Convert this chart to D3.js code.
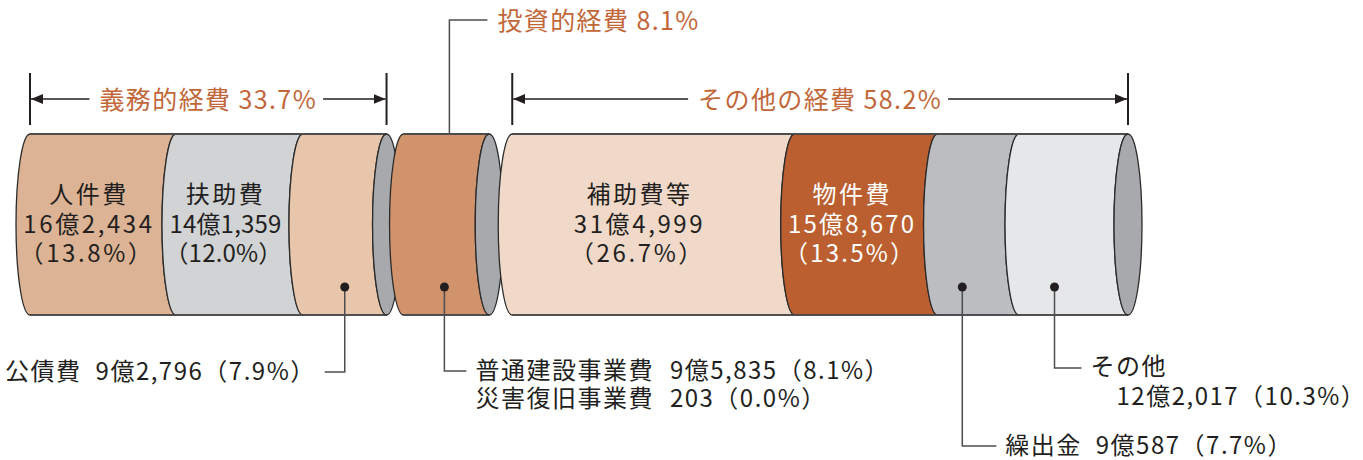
<!DOCTYPE html>
<html>
<head>
<meta charset="utf-8">
<script src="https://cdn.jsdelivr.net/npm/d3@7"></script>
<style>
    body { margin: 0; background: #fff; }
    svg text { font-family: "Noto Sans CJK JP", "Noto Sans", sans-serif; }
</style>
</head>
<body>
<div id="chart-area"></div>
<script>
// 経費区分
var groupNames = ["義務的経費", "投資的経費", "その他の経費"];
var groupShares = [33.7, 8.1, 58.2];

// 内訳 (金額は千円単位の表記のまま)
var itemNames = ["人件費", "扶助費", "公債費", "普通建設事業費", "災害復旧事業費", "補助費等", "物件費", "繰出金", "その他"];
var itemGroups = [0, 0, 0, 1, 1, 2, 2, 2, 2];
var itemAmounts = ["16億2,434", "14億1,359", "9億2,796", "9億5,835", "203", "31億4,999", "15億8,670", "9億587", "12億2,017"];
var itemShares = [13.8, 12.0, 7.9, 8.1, 0.0, 26.7, 13.5, 7.7, 10.3];

var colors = {
    "人件費": "#dcb394", "扶助費": "#d1d3d4", "公債費": "#e8c6ab",
    "普通建設事業費": "#d0936b", "災害復旧事業費": "#d0936b",
    "補助費等": "#f0d9c8", "物件費": "#bb5f31", "繰出金": "#bbbdc0", "その他": "#e6e7e8"
};
var capColor = "#a7a9ac";
var accent = "#c2673a";

CylinderChart = function(_parentElement) {
    var vis = this;
    vis.parentElement = _parentElement;
    vis.svgWidth = 1363;
    vis.svgHeight = 460;
    vis.left = 30;
    vis.gaps = [0, 17, 40];
    vis.cy = 224.5;
    vis.ry = 90.5;
    vis.rx = 14;
    vis.initVis();
};

CylinderChart.prototype.initVis = function() {
    var vis = this;

    vis.svg = d3.select("#" + vis.parentElement).append("svg")
        .attr("width", vis.svgWidth)
        .attr("height", vis.svgHeight);

    vis.x = d3.scaleLinear().domain([0, 100]).range([0, 1058]);

    vis.wrangleData();
    vis.drawCylinders();
    vis.drawInnerLabels();
    vis.drawBrackets();
    vis.drawCallouts();
};

CylinderChart.prototype.wrangleData = function() {
    var vis = this;

    vis.groups = groupNames.map(function(name, g) {
        var before = d3.sum(groupShares.slice(0, g));
        var x0 = vis.left + vis.x(before) + vis.gaps[g];
        return { name: name, share: groupShares[g], x0: x0, x1: x0 + vis.x(groupShares[g]) };
    });

    var cum = [0, 0, 0];
    vis.items = itemNames.map(function(name, i) {
        var g = itemGroups[i];
        var xl = vis.groups[g].x0 + vis.x(cum[g]);
        cum[g] += itemShares[i];
        var xr = vis.groups[g].x0 + vis.x(cum[g]);
        return { name: name, group: g, amount: itemAmounts[i], share: itemShares[i], xl: xl, xr: xr };
    });
    vis.itemByName = {};
    vis.items.forEach(function(d) { vis.itemByName[d.name] = d; });
};

CylinderChart.prototype.drawCylinders = function() {
    var vis = this;
    var top = vis.cy - vis.ry, bot = vis.cy + vis.ry;

    var segPath = function(d) {
        return "M" + d.xl + "," + top +
            "A" + vis.rx + "," + vis.ry + " 0 0 0 " + d.xl + "," + bot +
            "L" + d.xr + "," + bot +
            "A" + vis.rx + "," + vis.ry + " 0 0 1 " + d.xr + "," + top + "Z";
    };

    vis.groups.forEach(function(grp, g) {
        var layer = vis.svg.append("g").attr("class", "cylinder");

        layer.selectAll("path.seg")
            .data(vis.items.filter(function(d) { return d.group === g && d.share > 0; }))
            .enter().append("path")
            .attr("class", "seg")
            .attr("d", segPath)
            .attr("fill", function(d) { return colors[d.name]; })
            .attr("stroke", "#2b2b2b")
            .attr("stroke-width", 1.3);

        // 上下の輪郭線はやや太め
        layer.append("line")
            .attr("x1", grp.x0).attr("x2", grp.x1)
            .attr("y1", top).attr("y2", top)
            .attr("stroke", "#4d4d4f").attr("stroke-width", 2);
        layer.append("line")
            .attr("x1", grp.x0).attr("x2", grp.x1)
            .attr("y1", bot).attr("y2", bot)
            .attr("stroke", "#4d4d4f").attr("stroke-width", 1.6);

        layer.append("ellipse")
            .attr("cx", grp.x1).attr("cy", vis.cy)
            .attr("rx", vis.rx).attr("ry", vis.ry)
            .attr("fill", capColor)
            .attr("stroke", "#2b2b2b")
            .attr("stroke-width", 1.3);
    });
};

CylinderChart.prototype.drawInnerLabels = function() {
    var vis = this;
    var inner = ["人件費", "扶助費", "補助費等", "物件費"];
    var spacing = { "人件費": 2.6, "扶助費": 0.2, "補助費等": 2.6, "物件費": 2.2 };

    inner.forEach(function(name) {
        var d = vis.itemByName[name];
        var cx = (d.xl + d.xr) / 2 - vis.rx;
        var fill = name === "物件費" ? "#ffffff" : "#231f20";
        var lines = [d.name, d.amount, "（" + d.share.toFixed(1) + "%）"];
        var t = vis.svg.append("g").attr("class", "inner-label");
        lines.forEach(function(s, k) {
            t.append("text")
                .attr("x", cx + (k === 2 ? -2 : 0))
                .attr("y", vis.cy - 32 + k * 29.5)
                .attr("text-anchor", "middle")
                .attr("dominant-baseline", "central")
                .attr("font-size", 24)
                .attr("letter-spacing", k === 0 ? 2.5 : spacing[name])
                .attr("fill", fill)
                .text(s);
        });
    });
};

CylinderChart.prototype.drawBrackets = function() {
    var vis = this;
    var lineY = 99;

    vis.svg.append("defs").append("marker")
        .attr("id", "arrow")
        .attr("viewBox", "0 0 12 10")
        .attr("refX", 12).attr("refY", 5)
        .attr("markerWidth", 12).attr("markerHeight", 10)
        .attr("markerUnits", "userSpaceOnUse")
        .attr("orient", "auto")
        .append("path")
        .attr("d", "M0,0L12,5L0,10Z")
        .attr("fill", "#231f20");

    [0, 2].forEach(function(g) {
        var grp = vis.groups[g];
        var b = vis.svg.append("g").attr("class", "bracket");
        [grp.x0, grp.x1].forEach(function(xv) {
            b.append("line")
                .attr("x1", xv).attr("x2", xv)
                .attr("y1", 73).attr("y2", 125)
                .attr("stroke", "#231f20").attr("stroke-width", 2);
        });
        var label = b.append("text")
            .attr("x", (grp.x0 + grp.x1) / 2)
            .attr("y", lineY - 1)
            .attr("text-anchor", "middle")
            .attr("dominant-baseline", "central")
            .attr("font-size", 25)
            .attr("letter-spacing", 1.4)
            .attr("fill", accent)
            .text(grp.name + " " + grp.share.toFixed(1) + "%");
        var w = label.node().getComputedTextLength();
        var mid = (grp.x0 + grp.x1) / 2;
        b.append("line")
            .attr("x1", mid - w / 2 - 10).attr("x2", grp.x0 + 1)
            .attr("y1", lineY).attr("y2", lineY)
            .attr("stroke", "#231f20").attr("stroke-width", 1.5)
            .attr("marker-end", "url(#arrow)");
        b.append("line")
            .attr("x1", mid + w / 2 + 6).attr("x2", grp.x1 - 1)
            .attr("y1", lineY).attr("y2", lineY)
            .attr("stroke", "#231f20").attr("stroke-width", 1.5)
            .attr("marker-end", "url(#arrow)");
    });

    // 投資的経費は上方へ引き出し
    var g2 = vis.groups[1];
    var lx = (g2.x0 + g2.x1) / 2 + 3;
    vis.svg.append("path")
        .attr("d", "M" + lx + "," + (vis.cy - vis.ry) + "V20H" + (lx + 38))
        .attr("fill", "none").attr("stroke", "#4d4d4f").attr("stroke-width", 1.5);
    vis.svg.append("text")
        .attr("x", lx + 48).attr("y", 19)
        .attr("dominant-baseline", "central")
        .attr("font-size", 25)
        .attr("letter-spacing", 1.4)
        .attr("fill", accent)
        .text(g2.name + " " + g2.share.toFixed(1) + "%");
};

CylinderChart.prototype.drawCallouts = function() {
    var vis = this;
    var dotY = 287;
    var callouts = [
        { name: "公債費", dotDx: 14, elbowY: 372, dir: -1, reach: 20, gap: 14 },
        { name: "普通建設事業費", dotDx: 12, elbowY: 371, dir: 1, reach: 22, gap: 16, extra: "災害復旧事業費" },
        { name: "その他", dotDx: -5, elbowY: 368, dir: 1, reach: 27, twoLine: true },
        { name: "繰出金", dotDx: -2, elbowY: 446, dir: 1, reach: 34, gap: 14 }
    ];

    var pctText = function(d) { return "（" + d.share.toFixed(1) + "%）"; };

    var addLabel = function(x, y, d, anchor, gap) {
        var t = vis.svg.append("text")
            .attr("x", x).attr("y", y)
            .attr("text-anchor", anchor)
            .attr("dominant-baseline", "central")
            .attr("font-size", 24)
            .attr("letter-spacing", 1.5)
            .attr("fill", "#231f20");
        t.append("tspan").text(d.name);
        t.append("tspan").attr("dx", gap).text(d.amount + pctText(d));
        return t;
    };

    callouts.forEach(function(c) {
        var d = vis.itemByName[c.name];
        var dx = (d.xl + d.xr) / 2 - vis.rx + c.dotDx;
        var ex = dx + c.dir * c.reach;

        vis.svg.append("path")
            .attr("d", "M" + dx + "," + dotY + "V" + c.elbowY + "H" + ex)
            .attr("fill", "none").attr("stroke", "#4d4d4f").attr("stroke-width", 1.5);
        vis.svg.append("circle")
            .attr("cx", dx).attr("cy", dotY).attr("r", 4.5)
            .attr("fill", "#231f20");

        var tx = ex + c.dir * 9;
        if (c.twoLine) {
            vis.svg.append("text")
                .attr("x", tx).attr("y", c.elbowY - 4)
                .attr("dominant-baseline", "central")
                .attr("font-size", 24).attr("letter-spacing", 1.5)
                .attr("fill", "#231f20")
                .text(d.name);
            vis.svg.append("text")
                .attr("x", tx + 26).attr("y", c.elbowY + 26)
                .attr("dominant-baseline", "central")
                .attr("font-size", 24).attr("letter-spacing", 1.5)
                .attr("fill", "#231f20")
                .text(d.amount + pctText(d));
        } else {
            addLabel(tx, c.elbowY - 3, d, c.dir < 0 ? "end" : "start", c.gap);
            if (c.extra) {
                addLabel(tx, c.elbowY + 25, vis.itemByName[c.extra], "start", c.gap);
            }
        }
    });
};

new CylinderChart("chart-area");
</script>
</body>
</html>
